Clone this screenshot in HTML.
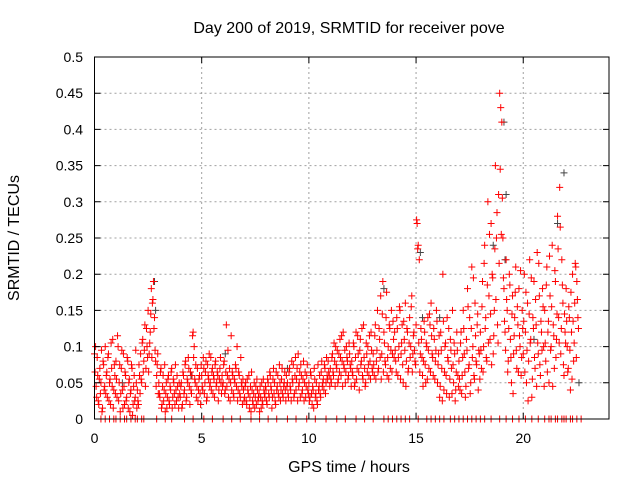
<!DOCTYPE html>
<html><head><meta charset="utf-8"><style>
body{margin:0;background:#fff}
svg{display:block;font-family:"Liberation Sans",sans-serif}
</style></head><body>
<svg id="c" width="640" height="480">
<text x="349" y="33" font-size="16" text-anchor="middle">Day 200 of 2019, SRMTID for receiver pove</text>
<text x="349" y="472" font-size="16" text-anchor="middle">GPS time / hours</text>
<text transform="translate(19,238) rotate(-90)" font-size="16" text-anchor="middle">SRMTID / TECUs</text>
<g id="grid"></g><g id="marks"></g><g id="axes"></g>
</svg>
<script>
const xTicks=[0,5,10,15,20];
const yTicks=[0,0.05,0.1,0.15,0.2,0.25,0.3,0.35,0.4,0.45,0.5];
const yTickLabels=["0","0.05","0.1","0.15","0.2","0.25","0.3","0.35","0.4","0.45","0.5"];
const blockStarts=[0,1,2,3,4,5,6,7,8,9,10,11,12,13,14,15,16,17,18,19,20,21,22];
const blockValues=[
[0.09,0.10,0.03,0.06,0.02,0.07,0.05,0.01,0.08,0.04,0.10,0.06,0.03,0.09,0.05,0.02,0.07,0.11,0.04,0.06],
[0.08,0.03,0.10,0.05,0.01,0.07,0.04,0.09,0.02,0.06,0.03,0.08,0.05,0.01,0.04,0.07,0.02,0.06,0.03,0.05],
[0.04,0.02,0.06,0.09,0.05,0.11,0.08,0.13,0.07,0.10,0.15,0.09,0.12,0.18,0.16,0.19,0.14,0.08,0.06,0.09],
[0.05,0.03,0.07,0.02,0.06,0.04,0.01,0.05,0.03,0.06,0.02,0.04,0.07,0.03,0.05,0.02,0.04,0.06,0.03,0.05],
[0.03,0.05,0.02,0.06,0.04,0.08,0.03,0.05,0.07,0.02,0.04,0.06,0.12,0.10,0.05,0.03,0.07,0.04,0.06,0.02],
[0.06,0.04,0.07,0.05,0.08,0.03,0.06,0.09,0.05,0.04,0.07,0.06,0.03,0.08,0.05,0.06,0.04,0.07,0.05,0.06],
[0.05,0.08,0.04,0.13,0.06,0.03,0.07,0.05,0.04,0.06,0.03,0.05,0.07,0.10,0.04,0.06,0.03,0.05,0.02,0.04],
[0.03,0.05,0.02,0.04,0.06,0.03,0.01,0.04,0.02,0.05,0.03,0.02,0.04,0.03,0.01,0.03,0.05,0.02,0.04,0.03],
[0.04,0.02,0.05,0.03,0.06,0.04,0.03,0.07,0.05,0.02,0.04,0.06,0.03,0.05,0.04,0.07,0.03,0.05,0.04,0.06],
[0.05,0.03,0.07,0.04,0.08,0.05,0.03,0.06,0.04,0.07,0.09,0.05,0.03,0.06,0.04,0.08,0.05,0.03,0.06,0.04],
[0.05,0.03,0.06,0.02,0.04,0.07,0.03,0.05,0.02,0.04,0.06,0.03,0.08,0.05,0.04,0.07,0.05,0.06,0.08,0.06],
[0.07,0.05,0.09,0.06,0.08,0.10,0.07,0.05,0.09,0.11,0.06,0.08,0.12,0.07,0.05,0.10,0.08,0.06,0.09,0.07],
[0.08,0.06,0.10,0.05,0.12,0.07,0.09,0.04,0.11,0.08,0.06,0.13,0.07,0.05,0.09,0.10,0.06,0.08,0.12,0.07],
[0.09,0.06,0.13,0.08,0.15,0.07,0.11,0.17,0.09,0.19,0.12,0.08,0.14,0.06,0.10,0.13,0.07,0.15,0.09,0.11],
[0.12,0.08,0.14,0.06,0.10,0.15,0.09,0.13,0.05,0.11,0.16,0.08,0.12,0.07,0.14,0.10,0.17,0.09,0.12,0.08],
[0.13,0.27,0.24,0.22,0.09,0.11,0.06,0.08,0.12,0.05,0.10,0.14,0.07,0.13,0.16,0.09,0.06,0.11,0.08,0.15],
[0.05,0.09,0.03,0.12,0.07,0.20,0.04,0.10,0.06,0.14,0.08,0.03,0.11,0.07,0.15,0.05,0.09,0.04,0.12,0.06],
[0.08,0.04,0.12,0.06,0.15,0.09,0.03,0.11,0.18,0.07,0.14,0.05,0.21,0.10,0.06,0.16,0.08,0.13,0.04,0.09],
[0.12,0.07,0.19,0.10,0.24,0.14,0.08,0.30,0.17,0.11,0.27,0.20,0.09,0.15,0.35,0.25,0.13,0.31,0.45,0.43],
[0.41,0.25,0.18,0.12,0.22,0.15,0.08,0.20,0.11,0.05,0.17,0.09,0.14,0.21,0.07,0.13,0.18,0.10,0.06,0.15],
[0.09,0.20,0.12,0.05,0.16,0.08,0.22,0.11,0.03,0.14,0.19,0.07,0.13,0.23,0.09,0.17,0.06,0.12,0.18,0.10],
[0.15,0.08,0.21,0.12,0.05,0.17,0.10,0.24,0.13,0.07,0.19,0.11,0.28,0.14,0.32,0.09,0.22,0.16,0.06,0.12],
[0.18,0.10,0.07,0.14,0.04,0.12,0.20,0.08,0.16,0.21,0.19,0.14]];
const blockValues2=[
[0.065,0.045,0.085,0.025,0.055,0.035,0.095,0.015,0.075,0.045,0.035,0.065,0.085,0.025,0.055,0.105,0.045,0.015,0.075,0.035],
[0.055,0.115,0.025,0.075,0.035,0.095,0.015,0.045,0.065,0.025,0.085,0.015,0.055,0.035,0.075,0.005,0.045,0.025,0.095,0.015],
[0.025,0.075,0.035,0.055,0.105,0.065,0.095,0.045,0.125,0.085,0.065,0.105,0.145,0.085,0.165,0.125,0.095,0.045,0.075,0.035],
[0.035,0.065,0.015,0.045,0.025,0.075,0.035,0.015,0.055,0.025,0.045,0.065,0.015,0.055,0.035,0.075,0.025,0.045,0.015,0.035],
[0.045,0.015,0.065,0.035,0.075,0.025,0.055,0.085,0.045,0.065,0.035,0.115,0.085,0.055,0.075,0.045,0.025,0.055,0.035,0.075],
[0.045,0.085,0.035,0.065,0.025,0.075,0.055,0.045,0.085,0.065,0.035,0.055,0.075,0.045,0.065,0.025,0.055,0.085,0.035,0.045],
[0.075,0.035,0.065,0.045,0.095,0.055,0.025,0.115,0.065,0.035,0.055,0.075,0.045,0.025,0.065,0.035,0.085,0.045,0.055,0.025],
[0.045,0.025,0.055,0.035,0.015,0.045,0.065,0.025,0.035,0.015,0.045,0.055,0.025,0.035,0.045,0.015,0.025,0.055,0.035,0.045],
[0.025,0.055,0.035,0.065,0.045,0.015,0.055,0.035,0.025,0.065,0.045,0.035,0.075,0.025,0.055,0.035,0.045,0.065,0.025,0.045],
[0.035,0.065,0.045,0.025,0.055,0.075,0.035,0.085,0.055,0.025,0.045,0.065,0.075,0.035,0.055,0.025,0.065,0.045,0.075,0.035],
[0.025,0.065,0.035,0.045,0.015,0.055,0.035,0.025,0.075,0.045,0.035,0.065,0.045,0.055,0.075,0.035,0.085,0.055,0.065,0.045],
[0.055,0.085,0.065,0.105,0.045,0.075,0.095,0.055,0.065,0.085,0.115,0.045,0.075,0.095,0.065,0.085,0.055,0.105,0.075,0.045],
[0.065,0.105,0.045,0.085,0.055,0.115,0.065,0.095,0.075,0.125,0.055,0.085,0.045,0.105,0.065,0.075,0.115,0.055,0.095,0.065],
[0.075,0.115,0.055,0.095,0.065,0.125,0.085,0.055,0.145,0.065,0.105,0.075,0.175,0.085,0.055,0.125,0.095,0.065,0.135,0.085],
[0.095,0.065,0.125,0.085,0.155,0.055,0.105,0.075,0.135,0.095,0.045,0.125,0.065,0.105,0.085,0.155,0.065,0.115,0.095,0.075],
[0.275,0.235,0.105,0.065,0.125,0.085,0.045,0.135,0.075,0.105,0.055,0.095,0.145,0.065,0.115,0.085,0.125,0.055,0.095,0.135],
[0.075,0.115,0.045,0.095,0.025,0.135,0.065,0.105,0.035,0.085,0.125,0.055,0.095,0.035,0.075,0.105,0.025,0.065,0.095,0.045],
[0.055,0.105,0.035,0.085,0.125,0.065,0.045,0.095,0.155,0.075,0.035,0.125,0.085,0.195,0.055,0.115,0.075,0.145,0.095,0.055],
[0.095,0.155,0.065,0.215,0.125,0.085,0.185,0.105,0.255,0.145,0.075,0.195,0.115,0.235,0.165,0.285,0.105,0.215,0.345,0.255],
[0.305,0.195,0.135,0.095,0.165,0.065,0.125,0.185,0.085,0.145,0.035,0.115,0.175,0.095,0.155,0.065,0.115,0.205,0.085,0.125],
[0.135,0.065,0.175,0.095,0.025,0.145,0.105,0.195,0.055,0.125,0.085,0.165,0.045,0.105,0.215,0.075,0.135,0.095,0.155,0.045],
[0.105,0.185,0.065,0.135,0.225,0.095,0.155,0.045,0.115,0.205,0.085,0.145,0.235,0.105,0.265,0.125,0.185,0.075,0.145,0.105],
[0.135,0.065,0.155,0.095,0.175,0.055,0.135,0.105,0.215,0.085,0.165,0.125]];
const zeroTimes=[0.3,0.5,0.7,0.9,1.0,1.2,1.4,1.5,1.7,1.9,2.0,2.2,2.3,2.9,3.3,3.6,4.2,4.6,5.1,5.5,6.0,6.4,6.8,7.3,7.7,8.1,8.5,9.0,9.4,9.9,10.3,10.8,11.3,11.7,12.2,12.6,13.0,13.5,13.7,13.9,14.1,14.3,14.5,14.7,15.1,15.5,15.7,15.9,16.1,16.3,16.6,16.8,17.0,17.2,17.4,17.6,17.8,18.0,18.2,18.5,18.9,19.2,19.5,19.8,20.1,20.4,20.7,21.0,21.2,21.3,21.5,21.6,21.8,21.9,22.0,22.2,22.3,22.5,22.7];
const darkTimes=[2.8,2.85,15.2,15.3,19.1,19.2,19.15,21.9,21.6,18.6,13.5,9.0,6.1,4.5,1.3,16.1,20.5,22.6];
const darkValues=[0.19,0.15,0.23,0.14,0.41,0.31,0.22,0.34,0.27,0.24,0.18,0.07,0.09,0.06,0.05,0.14,0.11,0.05];
const L=94.5,R=609,T=57,B=419,XMAX=24,YMAX=0.5;
const xs=v=>L+(R-L)*v/XMAX, ys=v=>B-(B-T)*v/YMAX;
const NS='http://www.w3.org/2000/svg';
function mk(tag,attrs,parent){const e=document.createElementNS(NS,tag);for(const k in attrs)e.setAttribute(k,attrs[k]);parent.appendChild(e);return e;}
const grid=document.getElementById('grid'),marks=document.getElementById('marks'),axes=document.getElementById('axes');
xTicks.forEach(t=>{
 const g=mk('line',{x1:xs(t),x2:xs(t),y1:T,y2:B,stroke:'#a0a0a0','stroke-dasharray':'2,3'},grid);
 
 
 const tk=mk('path',{d:`M${xs(t)},${B}v-6M${xs(t)},${T}v6`,stroke:'#000'},axes);
 
 
 const lb=mk('text',{x:xs(t),y:443,'font-size':14,'text-anchor':'middle'},axes);lb.textContent=t;
 
 
});
yTicks.forEach((t,i)=>{
 const g=mk('line',{x1:L,x2:R,y1:ys(t),y2:ys(t),stroke:'#a0a0a0','stroke-dasharray':'2,3'},grid);
 
 
 const tk=mk('path',{d:`M${L},${ys(t)}h6M${R},${ys(t)}h-6`,stroke:'#000'},axes);
 
 
 const lb=mk('text',{x:83,y:ys(t)+5,'font-size':14,'text-anchor':'end'},axes);lb.textContent=yTickLabels[i];
 
 
});
const fr=mk('rect',{x:L,y:T,width:R-L,height:B-T,fill:'none',stroke:'#000'},axes);


function plus(x,y,col,name){
 const p=mk('path',{d:`M${x-3.5},${y}h7M${x},${y-3.5}v7`,stroke:col,'stroke-width':1},marks);
 
 
}
darkTimes.forEach((t,i)=>plus(xs(t),ys(darkValues[i]),'#444','dark-point'));
blockStarts.forEach((h,b)=>{blockValues[b].forEach((v,i)=>plus(xs(h+i*0.05),ys(v),'#f00','srmtid-point'));});
blockStarts.forEach((h,b)=>{blockValues2[b].forEach((v,i)=>plus(xs(h+0.025+i*0.05),ys(v),'#f00','srmtid-point'));});
zeroTimes.forEach(t=>plus(xs(t),ys(0),'#f00','zero-point'));
</script>
</body></html>
